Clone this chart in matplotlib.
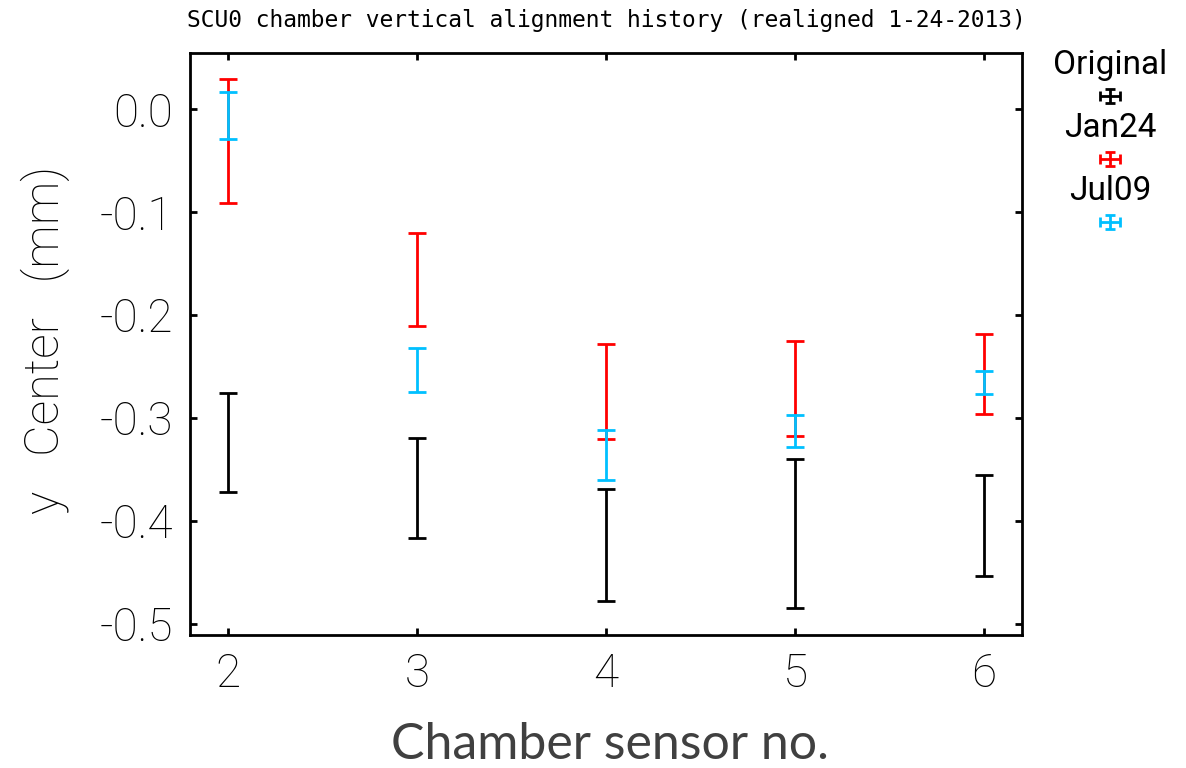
import matplotlib
matplotlib.use('Agg')
import matplotlib.pyplot as plt

# data: centre and half-width of each error bar, per chamber sensor
sensors = [2, 3, 4, 5, 6]
orig_y = [-0.324, -0.3685, -0.4235, -0.4125, -0.405]
orig_err = [0.048, 0.0485, 0.0545, 0.0725, 0.049]
jan24_y = [-0.031, -0.1655, -0.2745, -0.2715, -0.2575]
jan24_err = [0.060, 0.0455, 0.0465, 0.0465, 0.0385]
jul09_y = [-0.006, -0.2535, -0.336, -0.3125, -0.2655]
jul09_err = [0.023, 0.0215, 0.024, 0.0155, 0.0115]

series = [('Original', orig_y, orig_err, 'black'),
          ('Jan24', jan24_y, jan24_err, '#ff0000'),
          ('Jul09', jul09_y, jul09_err, '#00c0ff')]
yticks = [0.0, -0.1, -0.2, -0.3, -0.4, -0.5]
ytick_labels = ['0.0', '-0.1', '-0.2', '-0.3', '-0.4', '-0.5']

thin = dict(family=['Roboto', 'DejaVu Sans'], fontweight='light')

W, H = 1186, 768
fig = plt.figure(figsize=(W / 100, H / 100), dpi=100)
ax = fig.add_axes([190 / W, 1 - 635 / H, (1022 - 190) / W, (635 - 53) / H])

for name, y, e, c in series:
    ax.errorbar(sensors, y, yerr=e, fmt='none', ecolor=c, elinewidth=2.0,
                capsize=6.5, capthick=2.0)

ax.set_xlim(1.8, 6.2)
ax.set_ylim(-0.511, 0.0545)
ax.set_xticks(sensors)
ax.set_xticklabels([str(s) for s in sensors], fontsize=33, **thin)
ax.set_yticks(yticks)
ax.set_yticklabels(ytick_labels, fontsize=33, **thin)
ax.tick_params(direction='in', length=5, width=2, top=True, right=True, pad=12)
for s in ax.spines.values():
    s.set_linewidth(2)

fig.text(45 / W, 1 - 340 / H, 'y   Center   (mm)', rotation=90, ha='center',
         va='center', fontsize=35, **thin)
fig.text(610 / W, 1 - 745 / H, 'Chamber sensor no.', ha='center', va='center',
         fontsize=36, color='#404040', family=['Lato', 'DejaVu Sans'])
fig.text(606 / W, 1 - 20 / H, 'SCU0 chamber vertical alignment history (realigned 1-24-2013)',
         ha='center', va='center', fontsize=16.5, family='DejaVu Sans Mono')

# legend: label above a small cross-shaped error bar symbol
lg = fig.add_axes([0, 0, 1, 1])
lg.set_xlim(0, W)
lg.set_ylim(H, 0)
lg.axis('off')
lg.patch.set_alpha(0)
for i, (name, y, e, c) in enumerate(series):
    ty = 65 + i * 63
    lg.text(1110, ty, name, ha='center', va='center', fontsize=24,
            family=['Roboto', 'DejaVu Sans'])
    lg.errorbar([1110], [ty + 31], xerr=10, yerr=7, fmt='none', ecolor=c,
                elinewidth=2, capsize=3.5, capthick=2)

fig.savefig('out.png', dpi=100)
